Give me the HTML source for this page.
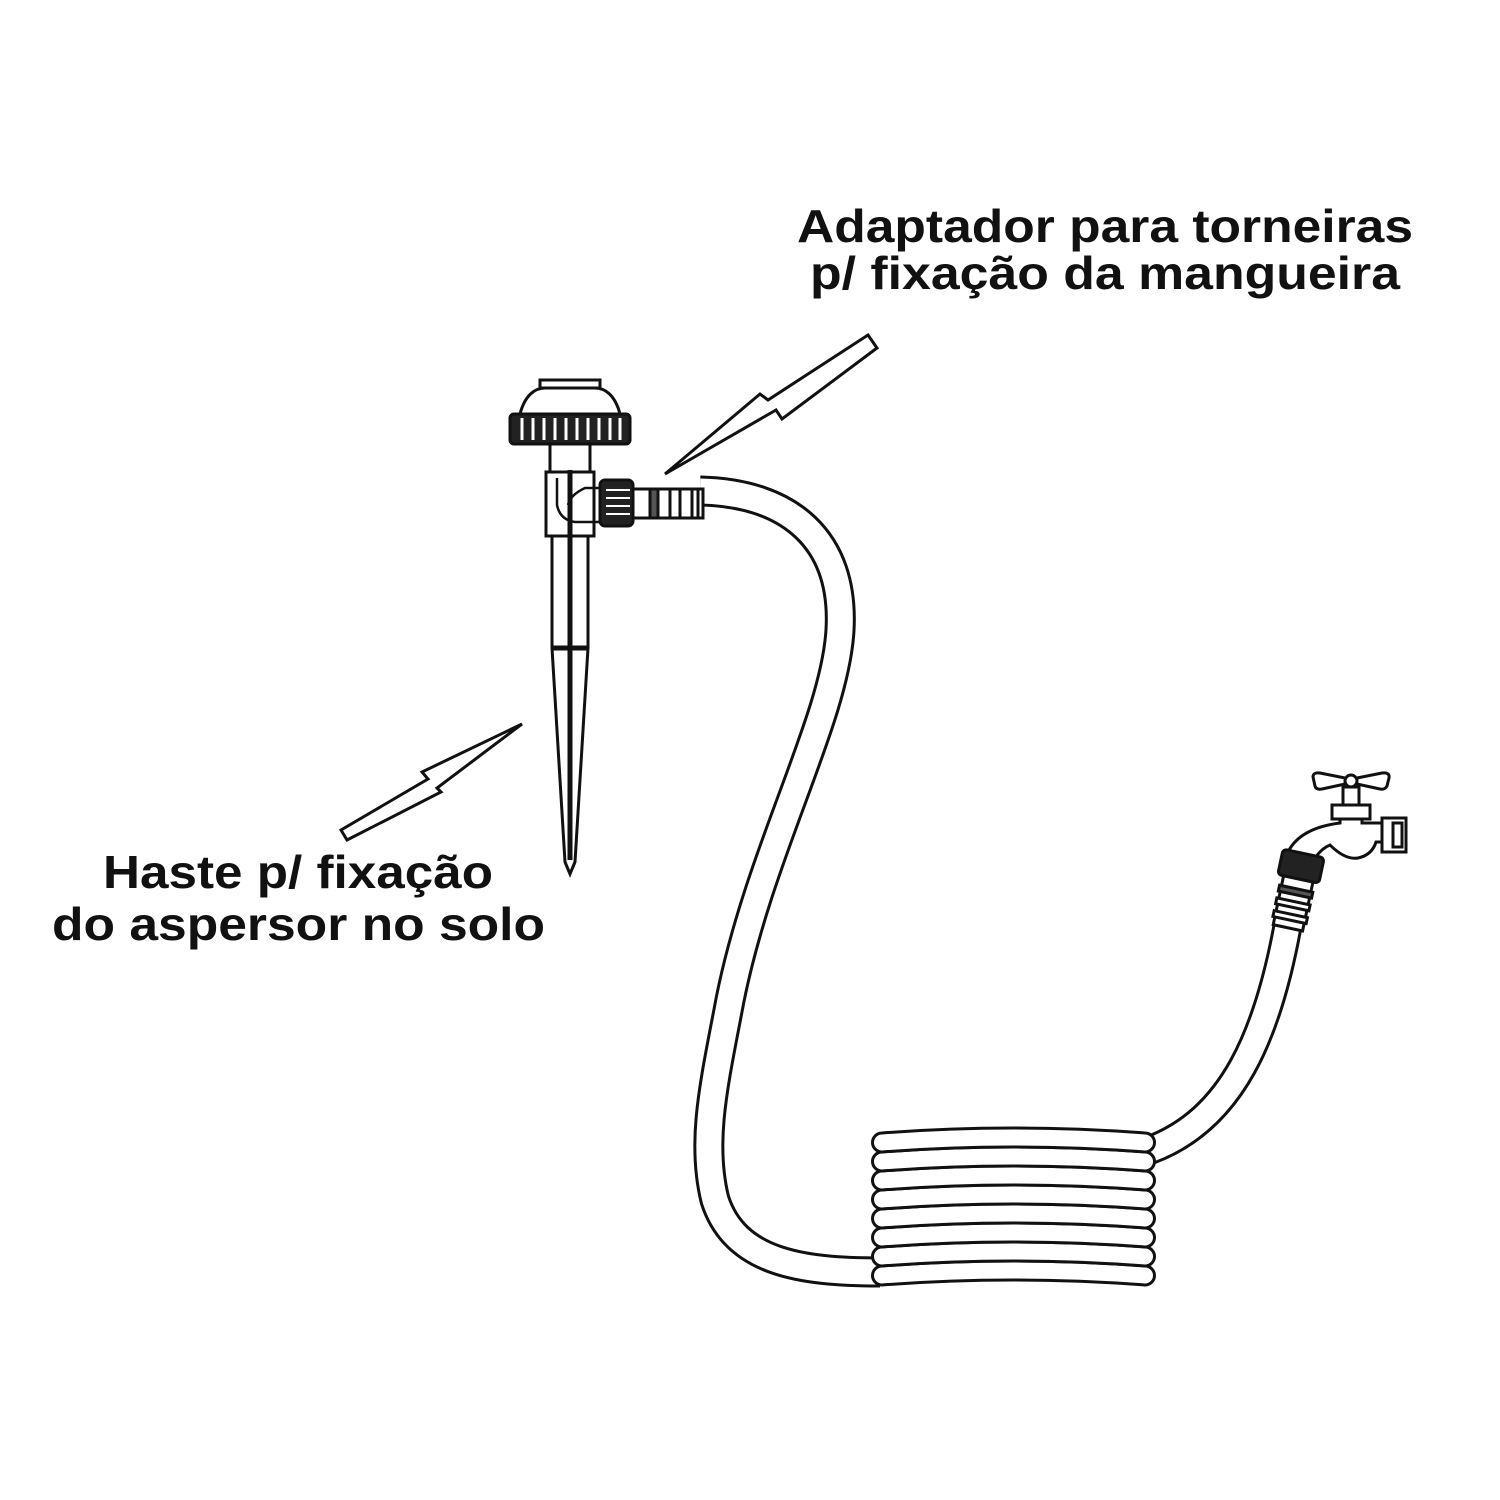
<!DOCTYPE html>
<html><head><meta charset="utf-8"><style>html,body{margin:0;padding:0;background:#fff}svg{display:block}</style></head>
<body>
<svg width="1500" height="1500" viewBox="0 0 1500 1500" xmlns="http://www.w3.org/2000/svg">
<rect width="1500" height="1500" fill="#fff"/>
<g font-family="Liberation Sans, Arial, sans-serif" font-weight="bold" font-size="46" fill="#111">
<text x="797" y="242" textLength="616" lengthAdjust="spacingAndGlyphs">Adaptador para torneiras</text>
<text x="810" y="289" textLength="590" lengthAdjust="spacingAndGlyphs">p/ fixação da mangueira</text>
<text x="103" y="888" textLength="390" lengthAdjust="spacingAndGlyphs">Haste p/ fixação</text>
<text x="52" y="940" textLength="493" lengthAdjust="spacingAndGlyphs">do aspersor no solo</text>
</g>
<g fill="#fff" stroke="#111" stroke-width="3" stroke-linejoin="miter">
<!-- arrows -->
<polygon points="868,335 877,348 782,419 776,410 665,474 760,394 768,400"/>
<polygon points="341,830 347,840 441,792 437,788 522,724 422,772 428,779"/>
</g>
<!-- main hose -->
<g fill="none" stroke-linecap="butt">
<path d="M700,491 C790,493 845,540 840,630 C835,720 760,850 730,1000 C715,1080 700,1140 715,1200 C735,1262 800,1272 880,1272" stroke="#111" stroke-width="31"/>
<path d="M700,491 C790,493 845,540 840,630 C835,720 760,850 730,1000 C715,1080 700,1140 715,1200 C735,1262 800,1272 880,1272" stroke="#fff" stroke-width="25"/>
<path d="M1150,1150 C1230,1120 1270,1040 1292,900" stroke="#111" stroke-width="30"/>
<path d="M1150,1150 C1230,1120 1270,1040 1292,900" stroke="#fff" stroke-width="24"/>
</g>
<!-- coil -->
<g fill="#fff" stroke="#111" stroke-width="3">
<path d="M882,1266 Q1013,1256 1145,1266 A9.5,9.5 0 0 1 1145,1285 Q1013,1275 882,1285 A9.5,9.5 0 0 1 882,1266Z"/>
<path d="M882,1247 Q1013,1237 1145,1247 A9.5,9.5 0 0 1 1145,1266 Q1013,1256 882,1266 A9.5,9.5 0 0 1 882,1247Z"/>
<path d="M882,1228 Q1013,1218 1145,1228 A9.5,9.5 0 0 1 1145,1247 Q1013,1237 882,1247 A9.5,9.5 0 0 1 882,1228Z"/>
<path d="M882,1209 Q1013,1199 1145,1209 A9.5,9.5 0 0 1 1145,1228 Q1013,1218 882,1228 A9.5,9.5 0 0 1 882,1209Z"/>
<path d="M882,1190 Q1013,1180 1145,1190 A9.5,9.5 0 0 1 1145,1209 Q1013,1199 882,1209 A9.5,9.5 0 0 1 882,1190Z"/>
<path d="M882,1171 Q1013,1161 1145,1171 A9.5,9.5 0 0 1 1145,1190 Q1013,1180 882,1190 A9.5,9.5 0 0 1 882,1171Z"/>
<path d="M882,1152 Q1013,1142 1145,1152 A9.5,9.5 0 0 1 1145,1171 Q1013,1161 882,1171 A9.5,9.5 0 0 1 882,1152Z"/>
<path d="M882,1133 Q1013,1123 1145,1133 A9.5,9.5 0 0 1 1145,1152 Q1013,1142 882,1152 A9.5,9.5 0 0 1 882,1133Z"/>
</g>
<!-- sprinkler -->
<g stroke="#111" stroke-width="3" fill="#fff">
<!-- stake -->
<path d="M552,535 L588,535 L588,648 L575,862 L570,874 L565,862 L552,648Z"/>
<line x1="552" y1="648" x2="588" y2="648" stroke-width="5"/>
<line x1="570" y1="470" x2="570" y2="860" stroke-width="5"/>
<!-- dome -->
<rect x="540" y="380" width="60" height="8"/>
<path d="M520,414 C525,395 535,388 545,388 L595,388 C605,388 615,395 620,414Z"/>
<!-- gear -->
<rect x="510" y="414" width="120" height="30" rx="4" fill="#222"/>
<g stroke="#fff" stroke-width="3">
<line x1="522" y1="418" x2="522" y2="440"/><line x1="533" y1="418" x2="533" y2="440"/>
<line x1="544" y1="418" x2="544" y2="440"/><line x1="555" y1="418" x2="555" y2="440"/>
<line x1="566" y1="418" x2="566" y2="440"/><line x1="577" y1="418" x2="577" y2="440"/>
<line x1="588" y1="418" x2="588" y2="440"/><line x1="599" y1="418" x2="599" y2="440"/>
<line x1="610" y1="418" x2="610" y2="440"/><line x1="620" y1="418" x2="620" y2="440"/>
</g>
<rect x="550" y="444" width="40" height="28"/>
<!-- tee -->
<rect x="546" y="472" width="48" height="64"/>
<path d="M557,478 L557,505 Q560,520 575,522 L600,522 L600,488 L585,488 Q570,495 568,505" fill="none" stroke-width="2.5"/>
<line x1="570" y1="470" x2="570" y2="536" stroke-width="5"/>
<!-- nut -->
<rect x="600" y="480" width="33" height="46" rx="5" fill="#222"/>
<g stroke="#fff" stroke-width="2">
<line x1="606" y1="490" x2="630" y2="490"/><line x1="606" y1="498" x2="630" y2="498"/>
<line x1="606" y1="506" x2="630" y2="506"/><line x1="606" y1="514" x2="630" y2="514"/>
</g>
<!-- connector -->
<rect x="633" y="489" width="70" height="29"/>
<rect x="650" y="489" width="8" height="29" fill="#555"/>
<line x1="670" y1="489" x2="670" y2="518"/><line x1="680" y1="489" x2="680" y2="518"/>
<line x1="692" y1="489" x2="692" y2="518"/><line x1="698" y1="489" x2="698" y2="518"/>
</g>
<!-- faucet -->
<g stroke="#111" stroke-width="3" fill="#fff">
<path d="M1313,777 Q1313,772 1320,773 L1345,778 L1357,778 L1382,773 Q1390,772 1389,778 L1387,786 Q1385,790 1380,789 L1357,784 L1345,784 L1322,789 Q1316,790 1315,786Z"/>
<circle cx="1351" cy="781" r="6"/>
<rect x="1343" y="787" width="16" height="18"/>
<rect x="1332" y="805" width="38" height="14"/>
<path d="M1340,819 L1340,823 Q1300,828 1288,852 L1315,858 Q1322,848 1330,845 Q1345,860 1358,858 Q1372,855 1376,842 L1382,842 L1382,823 L1362,823 L1362,819Z"/>
<rect x="1382" y="818" width="24" height="34"/>
<rect x="1393" y="823" width="9" height="24"/>
<g transform="rotate(12 1300 866)">
<rect x="1280" y="853" width="42" height="26" rx="4" fill="#222"/>
<rect x="1286" y="879" width="30" height="50"/>
<rect x="1284" y="889" width="34" height="6" fill="#555"/>
<rect x="1284" y="902" width="34" height="6"/>
<rect x="1284" y="915" width="34" height="6"/>
</g>
</g>
</svg>
</body></html>
